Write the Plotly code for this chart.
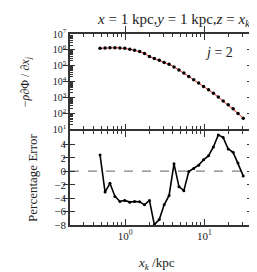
import plotly.graph_objects as go

x_kpc = [0.48, 0.555, 0.64, 0.74, 0.855, 0.985, 1.14, 1.31, 1.52, 1.75,
         2.02, 2.33, 2.69, 3.1, 3.58, 4.13, 4.77, 5.5, 6.35, 7.33,
         8.46, 9.76, 11.3, 13.0, 15.0, 17.3, 20.0, 23.1, 26.6, 31.0]
force = [1.26e6, 1.32e6, 1.35e6, 1.35e6, 1.32e6, 1.26e6, 1.10e6, 9.5e5, 7.9e5, 6.0e5,
         3.8e5, 2.9e5, 2.2e5, 1.6e5, 1.23e5, 8.5e4, 5.5e4, 3.5e4, 2.1e4, 1.3e4,
         8.1e3, 5.0e3, 3.1e3, 1.86e3, 1.07e3, 600, 350, 195, 100, 49]
pct_err = [2.4, -3.1, -1.8, -3.75, -4.5, -4.35, -4.6, -4.5, -4.55, -5.0,
           -4.35, -7.95, -7.2, -5.0, -3.6, 1.1, -2.3, -2.9, -0.05, 0.4,
           0.9, 1.7, 2.3, 3.6, 5.4, 5.0, 3.3, 2.8, 1.2, -0.7]

xtick_vals = [1, 10]
xtick_text = ["10<sup>0</sup>", "10<sup>1</sup>"]
xminor_vals = [0.2, 0.3, 0.4, 0.5, 0.6, 0.7, 0.8, 0.9,
               2, 3, 4, 5, 6, 7, 8, 9, 20, 30, 40]
ytop_vals = [1e1, 1e2, 1e3, 1e4, 1e5, 1e6, 1e7]
ytop_text = ["10<sup>%d</sup>" % i for i in range(1, 8)]
ytop_minor = [m * 10 ** d for d in range(1, 7) for m in (2, 3, 4, 5, 6, 7, 8, 9)]
ybot_vals = [-8, -6, -4, -2, 0, 2, 4]
ybot_text = ["\u22128", "\u22126", "\u22124", "\u22122", "0", "2", "4"]

FONT = "Liberation Serif"
AX = "#333"
XR = [-0.699, 1.602]
BOT_DOM = [0, 0.493]
TOP_DOM = [0.501, 1]

fig = go.Figure()
fig.add_trace(go.Scatter(x=x_kpc, y=force, mode="lines", line=dict(color="#e8261f", width=1),
                         xaxis="x2", yaxis="y2", showlegend=False))
fig.add_trace(go.Scatter(x=x_kpc, y=force, mode="markers", marker=dict(color="black", size=3.5),
                         xaxis="x2", yaxis="y2", showlegend=False))
fig.add_trace(go.Scatter(x=[0.2, 40], y=[0, 0], mode="lines",
                         line=dict(color="#808080", width=1.2, dash="dash"),
                         xaxis="x", yaxis="y", showlegend=False))
fig.add_trace(go.Scatter(x=x_kpc, y=pct_err, mode="lines+markers",
                         line=dict(color="black", width=1.6), marker=dict(color="black", size=3),
                         xaxis="x", yaxis="y", showlegend=False))
# invisible traces that activate the minor-tick overlay axes
for xa, ya in (("x3", "y"), ("x4", "y2"), ("x2", "y3")):
    fig.add_trace(go.Scatter(x=[None], y=[None], xaxis=xa, yaxis=ya, showlegend=False,
                             hoverinfo="skip"))

major_x = dict(type="log", range=XR, ticks="inside", ticklen=6, tickwidth=1,
               mirror="allticks", showline=True, linecolor=AX, linewidth=1.5,
               showgrid=False, zeroline=False, tickcolor=AX,
               tickvals=xtick_vals, ticktext=xtick_text)
minor_x = dict(type="log", range=XR, ticks="inside", ticklen=3, tickwidth=0.8,
               mirror="allticks", showline=False, showgrid=False, zeroline=False,
               tickcolor=AX, tickvals=xminor_vals, showticklabels=False)

fig.update_layout(
    width=257, height=272,
    margin=dict(l=62, r=11, t=26, b=55),
    paper_bgcolor="white", plot_bgcolor="white",
    font=dict(family=FONT, color="#222", size=11),
    xaxis=dict(**major_x, anchor="y", domain=[0, 1], tickfont=dict(size=11)),
    xaxis2=dict(**major_x, anchor="y2", showticklabels=False),
    xaxis3=dict(**minor_x, anchor="y", overlaying="x"),
    xaxis4=dict(**minor_x, anchor="y2", overlaying="x2"),
    yaxis=dict(domain=BOT_DOM, range=[-8, 6], tickvals=ybot_vals, ticktext=ybot_text,
               ticks="inside", ticklen=5, mirror="allticks", showline=True, linecolor=AX,
               linewidth=1.5, showgrid=False, zeroline=False, tickcolor=AX,
               tickfont=dict(size=11), anchor="x"),
    yaxis2=dict(domain=TOP_DOM, type="log", range=[1, 7], tickvals=ytop_vals, ticktext=ytop_text,
                ticks="inside", ticklen=5, mirror="allticks", showline=True, linecolor=AX,
                linewidth=1.5, showgrid=False, zeroline=False, tickcolor=AX,
                tickfont=dict(size=10), anchor="x2"),
    yaxis3=dict(domain=TOP_DOM, type="log", range=[1, 7], tickvals=ytop_minor, showticklabels=False,
                ticks="inside", ticklen=2.5, tickwidth=0.8, mirror="allticks", showline=False,
                showgrid=False, zeroline=False, tickcolor=AX, anchor="x2", overlaying="y2"),
    annotations=[
        dict(text="<i>x</i> = 1 kpc,<i>y</i> = 1 kpc,<i>z</i> = <i>x<sub>k</sub></i>",
             xref="paper", yref="paper", x=1.0, y=1.015, xanchor="right", yanchor="bottom",
             showarrow=False, font=dict(size=15)),
        dict(text="<i>j</i> = 2", xref="paper", yref="paper", x=0.82, y=0.905,
             xanchor="center", yanchor="middle", showarrow=False, font=dict(size=14)),
        dict(text="\u2212<i>\u03c1</i>\u2202\u03a6 / \u2202<i>x<sub>j</sub></i>", xref="paper", yref="paper",
             x=-0.245, y=0.75, xanchor="center", yanchor="middle", textangle=-90,
             showarrow=False, font=dict(size=12)),
        dict(text="Percentage Error", xref="paper", yref="paper",
             x=-0.205, y=0.245, xanchor="center", yanchor="middle", textangle=-90,
             showarrow=False, font=dict(size=13)),
        dict(text="<i>x<sub>k</sub></i> /kpc", xref="paper", yref="paper",
             x=0.478, y=-0.2, xanchor="center", yanchor="middle",
             showarrow=False, font=dict(size=13)),
    ],
)

fig.write_html("out.html")
